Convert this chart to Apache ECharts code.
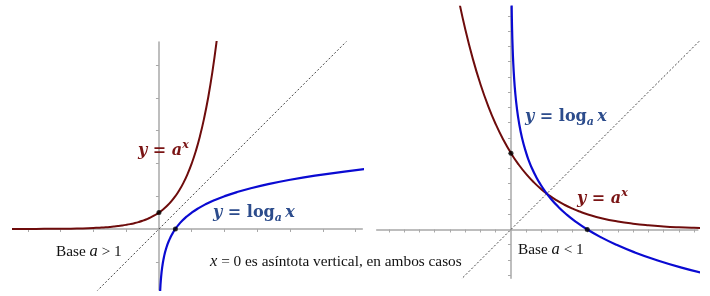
<!DOCTYPE html>
<html>
<head>
<meta charset="utf-8">
<script src="https://cdn.jsdelivr.net/npm/echarts@6/dist/echarts.min.js"></script>
<style>
html,body{margin:0;padding:0;background:#fff;}
#c{width:710px;height:296px;}
</style>
</head>
<body>
<div id="c"></div>
<script>
// Left panel: base a = 2  (points of y = a^x)
const leftExpX = [-9, -8, -7, -6, -5, -4, -3.75, -3.5, -3.25, -3, -2.75, -2.5, -2.25, -2, -1.75, -1.5, -1.25, -1, -0.75, -0.5, -0.25, 0, 0.25, 0.5, 0.75, 1, 1.25, 1.5, 1.75, 2, 2.25, 2.5, 2.75, 3, 3.25, 3.5, 3.75];
const leftExpY = [0.00195, 0.0039, 0.0078, 0.0156, 0.03125, 0.0625, 0.0743, 0.0884, 0.1051, 0.125, 0.1487, 0.1768, 0.2102, 0.25, 0.2973, 0.3536, 0.4204, 0.5, 0.5946, 0.7071, 0.8409, 1, 1.1892, 1.4142, 1.6818, 2, 2.3784, 2.8284, 3.3636, 4, 4.7568, 5.6569, 6.7272, 8, 9.5137, 11.3137, 13.4543];
// Right panel: base a = 0.2
const rightExpX = [-0.75, -0.7, -0.6, -0.5, -0.4, -0.3, -0.2, -0.1, 0, 0.1, 0.2, 0.3, 0.4, 0.5, 0.6, 0.7, 0.8, 0.9, 1.0, 1.2, 1.4, 1.6, 1.8, 2.0, 2.2, 2.4, 2.6, 2.8, 3.0];
const rightExpY = [3.344, 3.085, 2.627, 2.236, 1.904, 1.621, 1.380, 1.175, 1, 0.8513, 0.7248, 0.6170, 0.5253, 0.4472, 0.3807, 0.3241, 0.2759, 0.2349, 0.2, 0.1450, 0.1051, 0.0762, 0.0552, 0.04, 0.0290, 0.0210, 0.0152, 0.0110, 0.008];
const leftTicksX = [-8, -6, -4, -2, 2, 4, 6, 8, 10, 12];
const leftTicksY = [-2, 2, 4, 6, 8, 10];
const rightTicksX = [-1.6, -1.4, -1.2, -1.0, -0.8, -0.6, -0.4, -0.2, 0.2, 0.4, 0.6, 0.8, 1.0, 1.2, 1.4, 1.6, 1.8, 2.0, 2.2, 2.4];
const rightTicksY = [-0.6, -0.4, -0.2, 0.2, 0.4, 0.6, 0.8, 1.0, 1.2, 1.4, 1.6, 1.8, 2.0, 2.2, 2.4, 2.6, 2.8];
const identityLeft = [[-5, -5], [13, 13]];
const identityRight = [[-1, -1], [3, 3]];
const keyPoints = [[0, 1], [1, 0]];

const zip = (a, b) => a.map((v, i) => [v, b[i]]);
const expColor = '#6e0c0c';
const logColor = '#0a0ad2';
const axisColor = '#a8a8a8';

function xAx(idx, min, max, ticks) {
  return {
    type: 'value', gridIndex: idx, min: min, max: max,
    axisLine: {onZero: true, lineStyle: {color: axisColor, width: 1.5}},
    axisTick: {show: true, customValues: ticks, length: 3, lineStyle: {color: axisColor, width: 1}},
    axisLabel: {show: false}, splitLine: {show: false}
  };
}
function yAx(idx, min, max, ticks) {
  return {
    type: 'value', gridIndex: idx, min: min, max: max,
    axisLine: {onZero: true, lineStyle: {color: axisColor, width: 1.5}},
    axisTick: {show: true, customValues: ticks, length: 3, lineStyle: {color: axisColor, width: 1}},
    axisLabel: {show: false}, splitLine: {show: false}
  };
}

const mathI = {fontFamily: 'DejaVu Serif', fontStyle: 'italic', fontWeight: 'bold', fontSize: 16, lineHeight: 22};
const mathN = {fontFamily: 'DejaVu Serif', fontWeight: 'bold', fontSize: 16, lineHeight: 22};
const mathSup = {fontFamily: 'DejaVu Serif', fontStyle: 'italic', fontWeight: 'bold', fontSize: 11, lineHeight: 12, verticalAlign: 'top'};
const mathSub = {fontFamily: 'DejaVu Serif', fontStyle: 'italic', fontWeight: 'bold', fontSize: 11, lineHeight: 12, verticalAlign: 'bottom'};

function expLabel(x, y) {
  return {type: 'text', x: x, y: y, z: 10, style: {
    text: '{i|y}{n| = }{i|a}{s|x}', fill: '#7a1414', align: 'left', verticalAlign: 'middle',
    rich: {i: mathI, n: mathN, s: mathSup}}};
}
function logLabel(x, y) {
  return {type: 'text', x: x, y: y, z: 10, style: {
    text: '{i|y}{n| = log}{b|a} {i|x}', fill: '#2c4c8c', align: 'left', verticalAlign: 'middle',
    rich: {i: mathI, n: mathN, b: mathSub}}};
}
const bodyN = {fontFamily: 'Liberation Serif', fontSize: 15.3, lineHeight: 20};
const bodyI = {fontFamily: 'Liberation Serif', fontStyle: 'italic', fontSize: 16.5, lineHeight: 20};
function bodyText(x, y, text) {
  return {type: 'text', x: x, y: y, z: 10, style: {
    text: text, fill: '#111', align: 'left', verticalAlign: 'middle', rich: {n: bodyN, i: bodyI}}};
}

const chart = echarts.init(document.getElementById('c'), null, {renderer: 'canvas'});
chart.setOption({
  animation: false,
  backgroundColor: '#ffffff',
  grid: [
    {left: 13, top: 42, width: 349.3, height: 248},
    {left: 376.7, top: 6.7, width: 321.2, height: 271.6}
  ],
  xAxis: [xAx(0, -8.9, 12.4, leftTicksX), xAx(1, -1.76, 2.45, rightTicksX)],
  yAxis: [yAx(0, -3.72, 11.4, leftTicksY), yAx(1, -0.64, 2.92, rightTicksY)],
  series: [
    {type: 'line', xAxisIndex: 0, yAxisIndex: 0, data: identityLeft, showSymbol: false, silent: true,
      lineStyle: {color: '#444', width: 1, type: [2, 2]}, z: 1},
    {type: 'line', xAxisIndex: 0, yAxisIndex: 0, data: zip(leftExpX, leftExpY), showSymbol: false, smooth: true,
      lineStyle: {color: expColor, width: 2}, z: 3},
    {type: 'line', xAxisIndex: 0, yAxisIndex: 0, data: zip(leftExpY, leftExpX), showSymbol: false, smooth: true,
      lineStyle: {color: logColor, width: 2.2}, z: 3},
    {type: 'scatter', xAxisIndex: 0, yAxisIndex: 0, data: keyPoints, symbolSize: 5,
      itemStyle: {color: '#000'}, z: 5},
    {type: 'line', xAxisIndex: 1, yAxisIndex: 1, data: identityRight, showSymbol: false, silent: true,
      lineStyle: {color: '#444', width: 1, type: [2, 2]}, z: 1},
    {type: 'line', xAxisIndex: 1, yAxisIndex: 1, data: zip(rightExpX, rightExpY), showSymbol: false, smooth: true,
      lineStyle: {color: expColor, width: 2}, z: 3},
    {type: 'line', xAxisIndex: 1, yAxisIndex: 1, data: zip(rightExpY, rightExpX), showSymbol: false, smooth: true,
      lineStyle: {color: logColor, width: 2.2}, z: 3},
    {type: 'scatter', xAxisIndex: 1, yAxisIndex: 1, data: keyPoints, symbolSize: 5,
      itemStyle: {color: '#000'}, z: 5}
  ],
  graphic: [
    expLabel(138, 151),
    logLabel(213, 213),
    logLabel(525, 117),
    expLabel(577, 199),
    bodyText(56, 252, '{n|Base }{i|a}{n| > 1}'),
    bodyText(518, 250, '{n|Base }{i|a}{n| < 1}'),
    bodyText(210, 262, '{i|x}{n| = 0 es asíntota vertical, en ambos casos}')
  ]
});
</script>
</body>
</html>
